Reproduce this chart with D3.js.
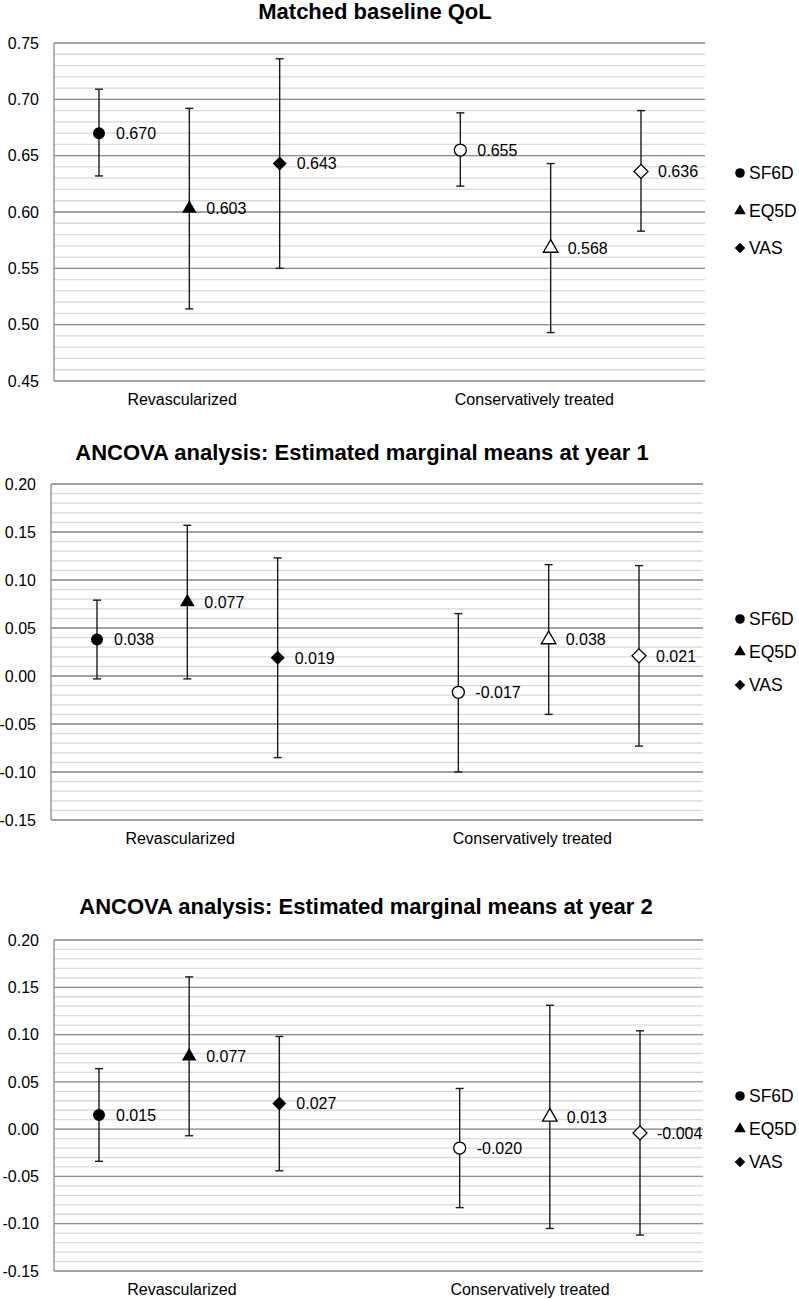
<!DOCTYPE html>
<html>
<head>
<meta charset="utf-8">
<script src="https://cdn.jsdelivr.net/npm/d3@7"></script>
<style>
  body { margin: 0; background: #fff; }
  svg text { font-family: "Liberation Sans", Arial, sans-serif; fill: #000; }
</style>
</head>
<body>
<div id="chart"></div>
<script>
// categories and series
var groups = ["Revascularized", "Conservatively treated"];
var measures = ["SF6D", "EQ5D", "VAS"];

// order: Rev SF6D, EQ5D, VAS, Cons SF6D, EQ5D, VAS
var baselineMean = [0.670, 0.603, 0.643, 0.655, 0.568, 0.636];
var baselineLow  = [0.632, 0.514, 0.550, 0.623, 0.493, 0.583];
var baselineHigh = [0.709, 0.692, 0.736, 0.688, 0.643, 0.690];

var year1Mean = [0.038, 0.077, 0.019, -0.017, 0.038, 0.021];
var year1Low  = [-0.003, -0.003, -0.085, -0.100, -0.040, -0.073];
var year1High = [0.079, 0.157, 0.123, 0.065, 0.116, 0.115];

var year2Mean = [0.015, 0.077, 0.027, -0.020, 0.013, -0.004];
var year2Low  = [-0.034, -0.007, -0.044, -0.083, -0.105, -0.112];
var year2High = [0.064, 0.161, 0.098, 0.043, 0.131, 0.104];

var baselineTicks = [0.45, 0.50, 0.55, 0.60, 0.65, 0.70, 0.75];
var ancovaTicks = [-0.15, -0.10, -0.05, 0.00, 0.05, 0.10, 0.15, 0.20];

var W = 799, H = 1299;
var loc = d3.formatLocale({decimal: ".", thousands: ",", grouping: [3], currency: ["", ""], minus: "-"});
var fmt3 = loc.format(".3f"), fmt2 = loc.format(".2f");

var svg = d3.select("#chart").append("svg")
    .attr("width", W)
    .attr("height", H);

var shapes = [d3.symbolCircle, d3.symbolTriangle, d3.symbolSquare];
var sizes = [113, 92, 98];
var legendSizes = [72, 58, 56];

function drawChart(c) {
    var g = svg.append("g");
    var y = d3.scaleLinear().domain(d3.extent(c.ticks)).range([c.bottom, c.top]);
    // marker slots 0,1,2 and 4,5,6
    var x = d3.scaleLinear().domain([0, 6]).range([c.x0, c.x6]);
    var slot = function(i) { return i < 3 ? i : i + 1; };

    // minor grid
    g.selectAll(".minor").data(y.ticks(35)).enter().append("line")
        .attr("x1", c.left).attr("x2", c.right)
        .attr("y1", function(d) { return y(d); }).attr("y2", function(d) { return y(d); })
        .style("stroke", "#d9d9d9").style("stroke-width", 1.3);
    // major grid
    g.selectAll(".major").data(c.ticks).enter().append("line")
        .attr("x1", c.left).attr("x2", c.right)
        .attr("y1", function(d) { return y(d); }).attr("y2", function(d) { return y(d); })
        .style("stroke", "#8c8c8c").style("stroke-width", 1.3);
    // left axis
    g.append("line")
        .attr("x1", c.left).attr("x2", c.left)
        .attr("y1", c.top).attr("y2", c.bottom)
        .style("stroke", "#9a9a9a").style("stroke-width", 1.5);

    // y tick labels
    g.selectAll(".tick").data(c.ticks).enter().append("text")
        .attr("x", c.left - 15)
        .attr("y", function(d) { return y(d); })
        .attr("dy", "0.36em")
        .attr("text-anchor", "end")
        .style("font-size", "16px")
        .text(function(d) { return fmt2(d); });

    // category labels
    g.selectAll(".cat").data(groups).enter().append("text")
        .attr("x", function(d, i) { return x(c.catPos[i]); })
        .attr("y", c.bottom + 24)
        .attr("text-anchor", "middle")
        .style("font-size", "16px")
        .text(function(d) { return d; });

    // title
    g.append("text")
        .attr("x", c.titleX).attr("y", c.titleY)
        .attr("text-anchor", "middle")
        .style("font-size", "22px").style("font-weight", "bold")
        .text(c.title);

    var pts = c.mean.map(function(m, i) {
        return {m: m, lo: c.lo[i], hi: c.hi[i], k: i % 3, open: i >= 3, cx: x(slot(i))};
    });

    // error bars
    var eb = g.selectAll(".eb").data(pts).enter().append("g");
    eb.append("line")
        .attr("x1", function(d) { return d.cx; }).attr("x2", function(d) { return d.cx; })
        .attr("y1", function(d) { return y(d.lo); }).attr("y2", function(d) { return y(d.hi); })
        .style("stroke", "#1a1a1a").style("stroke-width", 1.4);
    ["lo", "hi"].forEach(function(key) {
        eb.append("line")
            .attr("x1", function(d) { return d.cx - 4; }).attr("x2", function(d) { return d.cx + 4; })
            .attr("y1", function(d) { return y(d[key]); }).attr("y2", function(d) { return y(d[key]); })
            .style("stroke", "#1a1a1a").style("stroke-width", 1.4);
    });

    // markers
    g.selectAll(".pt").data(pts).enter().append("path")
        .attr("d", function(d) { return d3.symbol(shapes[d.k], sizes[d.k])(); })
        .attr("transform", function(d) {
            return "translate(" + d.cx + "," + y(d.m) + ")" + (d.k === 2 ? " rotate(45)" : "");
        })
        .style("fill", function(d) { return d.open ? "#fff" : "#000"; })
        .style("stroke", "#000")
        .style("stroke-width", function(d) { return d.open ? 1.3 : 0; });

    // value labels
    g.selectAll(".val").data(pts).enter().append("text")
        .attr("x", function(d) { return d.cx + 17; })
        .attr("y", function(d) { return y(d.m); })
        .attr("dy", "0.36em")
        .style("font-size", "16px")
        .text(function(d) { return fmt3(d.m); });

    // legend
    var lg = g.selectAll(".lg").data(measures).enter().append("g")
        .attr("transform", function(d, i) { return "translate(740," + c.legendY[i] + ")"; });
    lg.append("path")
        .attr("d", function(d, i) { return d3.symbol(shapes[i], legendSizes[i])(); })
        .attr("transform", function(d, i) { return i === 2 ? "rotate(45)" : null; })
        .style("fill", "#000");
    lg.append("text")
        .attr("x", 9).attr("dy", "0.36em")
        .style("font-size", "17.5px")
        .text(function(d) { return d; });
}

var charts = [
    {title: "Matched baseline QoL", mean: baselineMean, lo: baselineLow, hi: baselineHigh, ticks: baselineTicks,
     top: 43, bottom: 381, left: 54, right: 705, x0: 99, x6: 641, catPos: [0.92, 4.82],
     titleX: 375, titleY: 19, legendY: [173, 211, 248]},
    {title: "ANCOVA analysis: Estimated marginal means at year 1", mean: year1Mean, lo: year1Low, hi: year1High, ticks: ancovaTicks,
     top: 484, bottom: 820, left: 51, right: 703, x0: 97, x6: 639, catPos: [0.92, 4.82],
     titleX: 362, titleY: 460, legendY: [619, 652, 685]},
    {title: "ANCOVA analysis: Estimated marginal means at year 2", mean: year2Mean, lo: year2Low, hi: year2High, ticks: ancovaTicks,
     top: 940, bottom: 1271, left: 54, right: 703, x0: 99, x6: 640, catPos: [0.92, 4.78],
     titleX: 366, titleY: 914, legendY: [1096, 1129, 1162]}
];

charts.forEach(drawChart);
</script>
</body>
</html>
